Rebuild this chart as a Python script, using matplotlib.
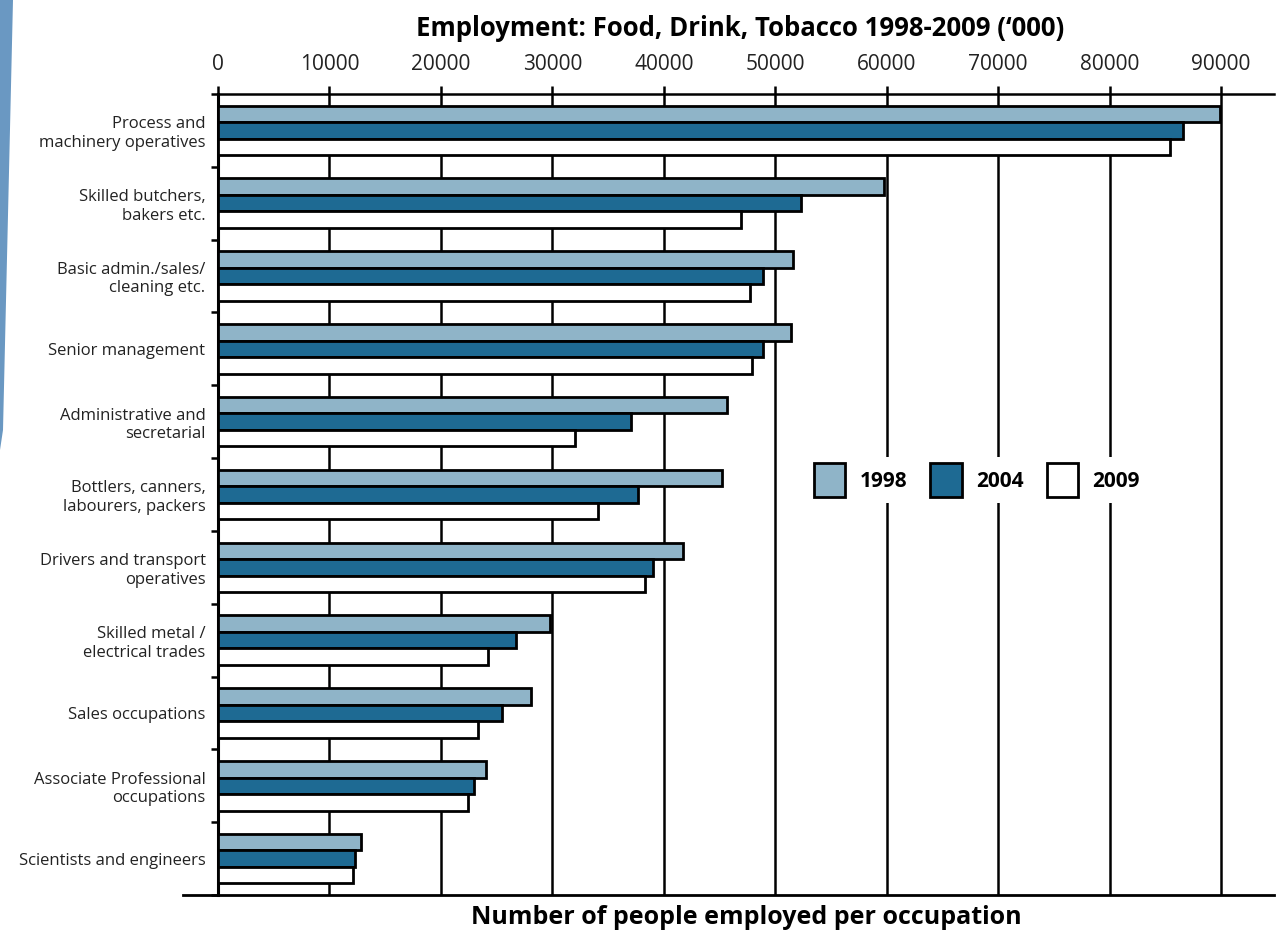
import numpy as np
import matplotlib.pyplot as plt
from matplotlib.patches import Patch, Polygon
from matplotlib.lines import Line2D

# Food, drink and tobacco employment by occupation ('000)
occupations = ['Process and\nmachinery operatives', 'Skilled butchers,\nbakers etc.',
               'Basic admin./sales/\ncleaning etc.', 'Senior management',
               'Administrative and\nsecretarial', 'Bottlers, canners,\nlabourers, packers',
               'Drivers and transport\noperatives', 'Skilled metal /\nelectrical trades',
               'Sales occupations', 'Associate Professional\noccupations',
               'Scientists and engineers']
emp_1998 = [89900, 59800, 51600, 51450, 45700, 45200, 41700, 29750, 28050, 24050, 12850]
emp_2004 = [86550, 52360, 48900, 48900, 37100, 37700, 39000, 26700, 25450, 22950, 12250]
emp_2009 = [85450, 46900, 47700, 47900, 32000, 34100, 38300, 24200, 23350, 22450, 12150]
years = ['1998', '2004', '2009']
xticks = np.arange(0, 90001, 10000)

colors = ['#8fb4c8', '#1e6a93', '#ffffff']
font = 'Open Sans'
W, H = 1284, 934

fig = plt.figure(figsize=(W / 100, H / 100), dpi=100)
ax = fig.add_axes([218 / W, 1 - 895 / H, (1274 - 218) / W, 801 / H])

# blue strip down the left edge
fig.patches.append(Polygon([(0, 1), (13 / W, 1), (3 / W, 1 - 430 / H), (0, 1 - 450 / H)],
                           closed=True, transform=fig.transFigure,
                           facecolor='#6a98c2', edgecolor='none'))

ind = np.arange(len(occupations))
h = 0.227
for k, (vals, c) in enumerate(zip([emp_1998, emp_2004, emp_2009], colors)):
    ax.barh(ind + (k - 1) * h, vals, h, color=c, edgecolor='black', linewidth=2,
            label=years[k], zorder=3)

ax.set_xlim(0, 94760)
ax.set_ylim(len(occupations) - 0.5, -0.5)

ax.xaxis.tick_top()
ax.set_xticks(xticks)
ax.set_xticklabels([str(v) for v in xticks], fontname=font, fontsize=15, color='#222222')
ax.tick_params(axis='x', direction='out', length=6, width=1.8, pad=8)
ax.xaxis.grid(True, color='black', linewidth=1.8, zorder=1)
ax.set_axisbelow(True)

# boundaries get tick marks, centres get the labels
ax.set_yticks(np.arange(-0.5, len(occupations) - 0.4, 1.0))
ax.set_yticklabels([])
ax.set_yticks(ind, minor=True)
ax.set_yticklabels(occupations, minor=True, fontname=font, fontsize=12, color='#222222')
ax.tick_params(axis='y', which='major', direction='out', length=5, width=1.8)
ax.tick_params(axis='y', which='minor', length=0, pad=9)

for side in ['right', 'bottom']:
    ax.spines[side].set_visible(False)
ax.spines['left'].set_linewidth(2.2)
ax.spines['top'].set_linewidth(1.8)

fig.add_artist(Line2D([183 / W, 1274 / W], [1 - 895 / H, 1 - 895 / H],
                      transform=fig.transFigure, color='black', linewidth=2))

handles = [Patch(facecolor=c, edgecolor='black', linewidth=2) for c in colors]
leg = ax.legend(handles, years, ncol=3, loc='center', bbox_to_anchor=(0.7187, 0.518),
                frameon=True, facecolor='white', edgecolor='none', framealpha=1,
                prop={'family': font, 'weight': 'bold', 'size': 15},
                handlelength=1.5, handleheight=2.1, handletextpad=0.7,
                columnspacing=1.1, borderpad=0.3, fancybox=False)
leg.set_zorder(5)

fig.text(740 / W, 1 - 28 / H, "Employment: Food, Drink, Tobacco 1998-2009 (\u2018000)",
         ha='center', va='center', fontname=font, fontweight='bold', fontsize=18.5)
fig.text(746 / W, 1 - 917 / H, 'Number of people employed per occupation',
         ha='center', va='center', fontname=font, fontweight='bold', fontsize=18)

fig.savefig('out.png', dpi=100)
